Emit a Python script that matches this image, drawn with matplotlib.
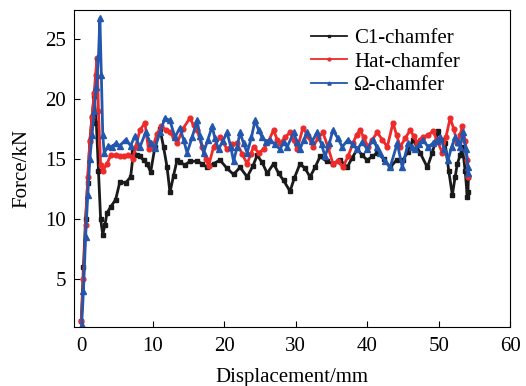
import matplotlib
matplotlib.use("Agg")
import matplotlib.pyplot as plt

plt.rcParams['font.family'] = ['Liberation Serif', 'DejaVu Serif']

# C1-chamfer (black)
c1_x = [0, 0.3, 0.6, 0.9, 1.2, 1.5, 1.8, 2.1, 2.4, 2.7, 3.0, 3.3, 3.6, 4.1, 4.8, 5.4,
        6.2, 6.9, 7.3, 7.8, 8.2, 8.7, 9.2, 9.7, 10.3, 11.0, 11.5, 12.0, 12.4, 12.9,
        13.4, 13.8, 14.5, 15.2, 16.2, 16.9, 17.6, 18.5, 19.4, 20.4, 21.3, 22.2, 23.2,
        24.0, 24.6, 25.3, 26.0, 26.9, 27.6, 28.3, 29.2, 29.8, 30.6, 31.3, 32.0, 32.7,
        33.4, 34.3, 35.2, 36.2, 37.2, 37.9, 38.6, 39.3, 40.0, 40.7, 41.4, 42.3, 43.2,
        44.1, 45.0, 45.7, 46.4, 47.4, 48.4, 49.1, 49.9, 50.4, 50.9, 51.4, 51.9, 52.3,
        52.6, 53.0, 53.3, 53.7, 54.0, 54.1, 54.1]
c1_y = [1.5, 6.0, 10.0, 13.0, 16.5, 18.5, 20.2, 18.0, 14.0, 10.0, 8.7, 9.5, 10.5, 11.0,
        11.6, 13.1, 13.0, 13.5, 15.6, 15.3, 15.2, 14.9, 14.6, 13.9, 16.0, 17.5, 16.0,
        14.3, 12.2, 13.6, 14.9, 14.7, 14.5, 14.8, 14.8, 14.6, 14.3, 14.6, 14.9, 14.2,
        13.7, 14.3, 13.5, 14.4, 15.3, 14.7, 13.8, 14.6, 13.8, 13.2, 12.3, 13.4, 14.6,
        14.2, 13.5, 14.3, 15.2, 14.8, 14.6, 14.9, 14.3, 15.1, 15.8, 15.3, 14.9, 15.2,
        15.5, 15.0, 14.3, 14.9, 14.9, 15.6, 16.6, 15.5, 14.3, 15.5, 17.3, 16.6, 16.3,
        14.0, 12.0, 13.5, 14.6, 15.3, 16.0, 14.0, 11.8, 13.5, 12.2]

# Hat-chamfer (red)
hat_x = [0, 0.3, 0.6, 0.9, 1.2, 1.5, 1.8, 2.0, 2.2, 2.4, 2.7,
         3.0, 3.6, 4.1, 4.8, 5.4, 6.0, 6.6, 7.2, 7.6, 8.2, 8.9, 9.4, 10.0, 10.6, 11.2,
         11.9, 12.4, 12.9, 13.4, 14.2, 15.2, 15.7, 16.2, 16.9, 17.4, 17.8, 18.5, 19.4,
         20.4, 21.1, 21.8, 22.5, 23.2, 23.7, 24.1, 24.8, 25.5, 26.2, 26.9, 27.4,
         27.8, 28.5, 29.2, 29.7, 30.2, 31.0, 31.7, 32.4, 33.1, 33.8, 34.5, 35.2, 35.9,
         36.6, 37.3, 38.0, 38.5, 39.0, 39.5, 40.1, 40.7, 41.4, 42.1, 42.8, 43.6, 44.1,
         44.6, 45.3, 46.0, 46.5, 47.0, 47.4, 47.8, 48.5, 49.2, 49.8, 50.5, 51.0, 51.6,
         52.1, 52.6, 53.0, 53.3, 53.7, 54.0, 54.1]
hat_y = [1.5, 5.0, 9.5, 13.5, 16.5, 18.5, 20.5, 22.0, 23.4, 19.0, 14.5,
         14.0, 14.6, 15.3, 15.3, 15.2, 15.2, 15.3, 15.0, 16.0, 17.4, 18.0, 15.8, 16.0,
         17.1, 17.7, 17.4, 17.2, 16.8, 16.3, 17.5, 18.4, 17.8, 17.4, 16.0, 15.0, 14.4,
         16.0, 16.8, 15.8, 16.2, 16.3, 15.4, 14.6, 15.4, 16.0, 15.5, 15.8, 16.5, 17.4,
         16.6, 16.3, 16.8, 17.2, 16.6, 15.8, 17.6, 16.9, 16.0, 16.7, 17.2, 16.0, 14.6,
         14.8, 14.3, 15.2, 16.3, 17.0, 17.4, 16.8, 16.0, 16.6, 17.2, 16.6, 16.0, 18.0,
         17.0, 16.0, 16.7, 17.4, 16.9, 16.3, 16.6, 16.8, 17.0, 17.3, 16.5, 15.5, 16.8,
         18.4, 17.5, 16.3, 17.0, 17.7, 16.5, 14.9, 13.5]

# Omega-chamfer (blue)
om_x = [0.05, 0.3, 0.6, 0.9, 1.2, 1.5, 1.8, 2.1, 2.4, 2.6, 2.8, 3.0, 3.2, 3.8, 4.3,
        4.8, 5.4, 6.2, 6.9, 7.5, 8.2, 9.0, 9.7, 10.3, 11.0, 11.7, 12.4, 13.1, 13.8,
        14.3, 14.8, 15.5, 16.2, 16.6, 17.1, 17.7, 18.3, 18.7, 19.2, 19.8, 20.4, 20.9,
        21.3, 21.8, 22.2, 22.7, 23.2, 23.8, 24.3, 24.8, 25.3, 25.9, 26.4, 27.1, 27.8,
        28.3, 28.8, 29.7, 30.2, 30.6, 31.1, 31.6, 32.3, 33.0, 33.6, 34.1, 34.7, 35.2,
        35.9, 36.5, 37.3, 38.0, 38.6, 39.3, 40.0, 40.8, 41.3, 41.8, 42.5, 43.2, 44.2,
        44.9, 45.7, 46.2, 46.7, 47.3, 47.8, 48.5, 49.2, 49.7, 50.2, 50.8, 51.3, 51.8,
        52.3, 52.7, 53.0, 53.4, 53.8, 54.1, 54.15]
om_y = [1.2, 4.0, 8.5, 12.0, 15.0, 17.0, 19.0, 21.0, 23.5, 26.7, 22.0, 17.0, 15.5,
        16.1, 16.0, 16.3, 16.1, 16.6, 16.1, 16.9, 16.0, 17.2, 16.3, 15.9, 17.2, 18.4,
        18.2, 16.8, 17.6, 16.6, 15.5, 16.8, 18.2, 16.9, 15.5, 16.6, 17.7, 16.7, 15.8,
        16.5, 17.2, 16.0, 14.8, 16.0, 17.2, 16.3, 15.5, 16.8, 18.2, 17.4, 16.8, 16.4,
        16.6, 16.2, 15.8, 16.4, 16.0, 17.2, 16.4, 15.8, 16.6, 17.2, 16.5, 17.2, 16.2,
        15.2, 16.3, 17.4, 16.7, 16.0, 16.6, 16.2, 15.8, 16.4, 15.8, 16.6, 16.0, 15.5,
        14.8, 14.3, 16.3, 14.3, 16.3, 16.0, 15.8, 16.2, 16.6, 16.0, 16.3, 16.5, 16.8,
        15.8, 14.9, 16.0, 16.8, 16.4, 16.0, 17.2, 15.8, 14.3, 13.8]

fig = plt.figure(figsize=(5.26, 3.86), dpi=100)
ax = fig.add_axes([0.141, 0.153, 0.829, 0.821])

ax.plot(c1_x, c1_y, color='#1a1a1a', lw=2.0, marker='s', ms=3.0, label='C1-chamfer')
ax.plot(hat_x, hat_y, color='#ee2a2a', lw=2.0, marker='o', ms=3.4, label='Hat-chamfer')
ax.plot(om_x, om_y, color='#2257ad', lw=2.0, marker='^', ms=3.8, label='Ω-chamfer')

ax.set_xlim(-1, 60)
ax.set_ylim(1, 27.4)
ax.set_xticks([0, 10, 20, 30, 40, 50, 60])
ax.set_yticks([5, 10, 15, 20, 25])
ax.tick_params(direction='in', length=4, labelsize=15)
ax.tick_params(axis='x', pad=7)
ax.tick_params(axis='y', pad=6)
ax.set_xlabel('Displacement/mm', fontsize=15, labelpad=9)
ax.set_ylabel('Force/kN', fontsize=15, labelpad=10)

leg = ax.legend(loc='upper left', bbox_to_anchor=(0.52, 0.975), frameon=False,
                fontsize=15, handlelength=1.7, borderpad=0, labelspacing=0.2,
                handletextpad=0.35, markerscale=0.6)
for line in leg.get_lines():
    line.set_linewidth(1.3)

fig.savefig('out.png', dpi=100)
